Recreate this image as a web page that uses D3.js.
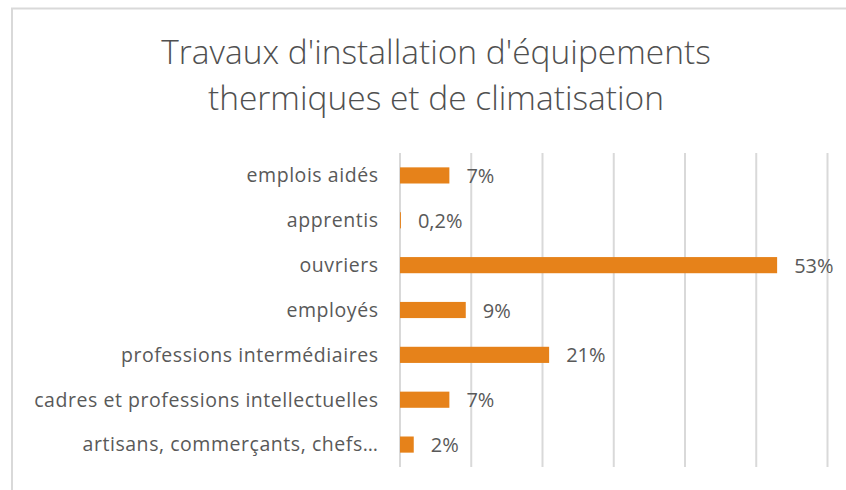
<!DOCTYPE html>
<html>
<head>
<meta charset="utf-8">
<script src="https://cdn.jsdelivr.net/npm/d3@7"></script>
<style>
  html, body { margin: 0; padding: 0; background: #ffffff; }
  svg { display: block; }
  text { font-family: "Open Sans", "Noto Sans", sans-serif; fill: #595959; }
</style>
</head>
<body>
<svg id="chart" width="846" height="490"></svg>
<script>
// ---- data ----
const titleLines = ["Travaux d'installation d'équipements", "thermiques et de climatisation"];
const categories = [
  "emplois aidés",
  "apprentis",
  "ouvriers",
  "employés",
  "professions intermédiaires",
  "cadres et professions intellectuelles",
  "artisans, commerçants, chefs…"
];
const values = [0.07, 0.002, 0.53, 0.093, 0.21, 0.07, 0.02];
const valueLabels = ["7%", "0,2%", "53%", "9%", "21%", "7%", "2%"];
const gridTicks = [0, 0.1, 0.2, 0.3, 0.4, 0.5, 0.6];

// ---- layout ----
const svg = d3.select("#chart");
const plot = { left: 399.5, right: 827, top: 153, bottom: 467 };
const barColor = "#e6821a";
const gridColor = "#d9d9d9";

// chart frame (left & top edges visible)
svg.append("rect")
  .attr("x", 12).attr("y", 8.5)
  .attr("width", 860).attr("height", 500)
  .attr("fill", "#ffffff")
  .attr("stroke", "#d9d9d9")
  .attr("stroke-width", 2);

// title
const title = svg.append("g");
titleLines.forEach((t, i) => {
  title.append("text")
    .attr("x", 436)
    .attr("y", 64 + i * 46)
    .attr("text-anchor", "middle")
    .attr("font-size", 33.5)
    .attr("font-weight", 300)
    .style("fill", "#505050")
    .text(t);
});

const x = d3.scaleLinear().domain([0, 0.6]).range([plot.left, plot.right]);
const y = d3.scaleBand().domain(categories).range([plot.top, plot.bottom])
  .paddingInner(0.64).paddingOuter(0.32);

// gridlines via axis
const grid = svg.append("g")
  .attr("transform", `translate(0,${plot.bottom})`)
  .call(d3.axisBottom(x).tickValues(gridTicks).tickSize(-(plot.bottom - plot.top)).tickFormat(""));
grid.select(".domain").remove();
grid.selectAll(".tick line").attr("stroke", gridColor).attr("stroke-width", 2);

// category axis
const yAxis = svg.append("g")
  .attr("transform", `translate(${plot.left},0)`)
  .call(d3.axisLeft(y).tickSize(0).tickPadding(21));
yAxis.select(".domain").remove();
yAxis.selectAll(".tick text")
  .attr("font-size", 19.5)
  .attr("fill", "#595959")
  .attr("dy", "0.35em")
  .style("letter-spacing", "0.55px")
  .style("font-family", "'Open Sans', 'Noto Sans', sans-serif");

// bars
svg.append("g").selectAll("rect")
  .data(categories)
  .join("rect")
  .attr("x", x(0) + 0.5)
  .attr("y", d => y(d))
  .attr("width", (d, i) => Math.max(0, x(values[i]) - x(0) - 0.5))
  .attr("height", y.bandwidth())
  .attr("fill", barColor);

// value labels
svg.append("g").selectAll("text")
  .data(categories)
  .join("text")
  .attr("x", (d, i) => x(values[i]) + 17)
  .attr("y", d => y(d) + y.bandwidth() / 2)
  .attr("dy", "0.38em")
  .attr("font-size", 20)
  .text((d, i) => valueLabels[i]);
</script>
</body>
</html>
